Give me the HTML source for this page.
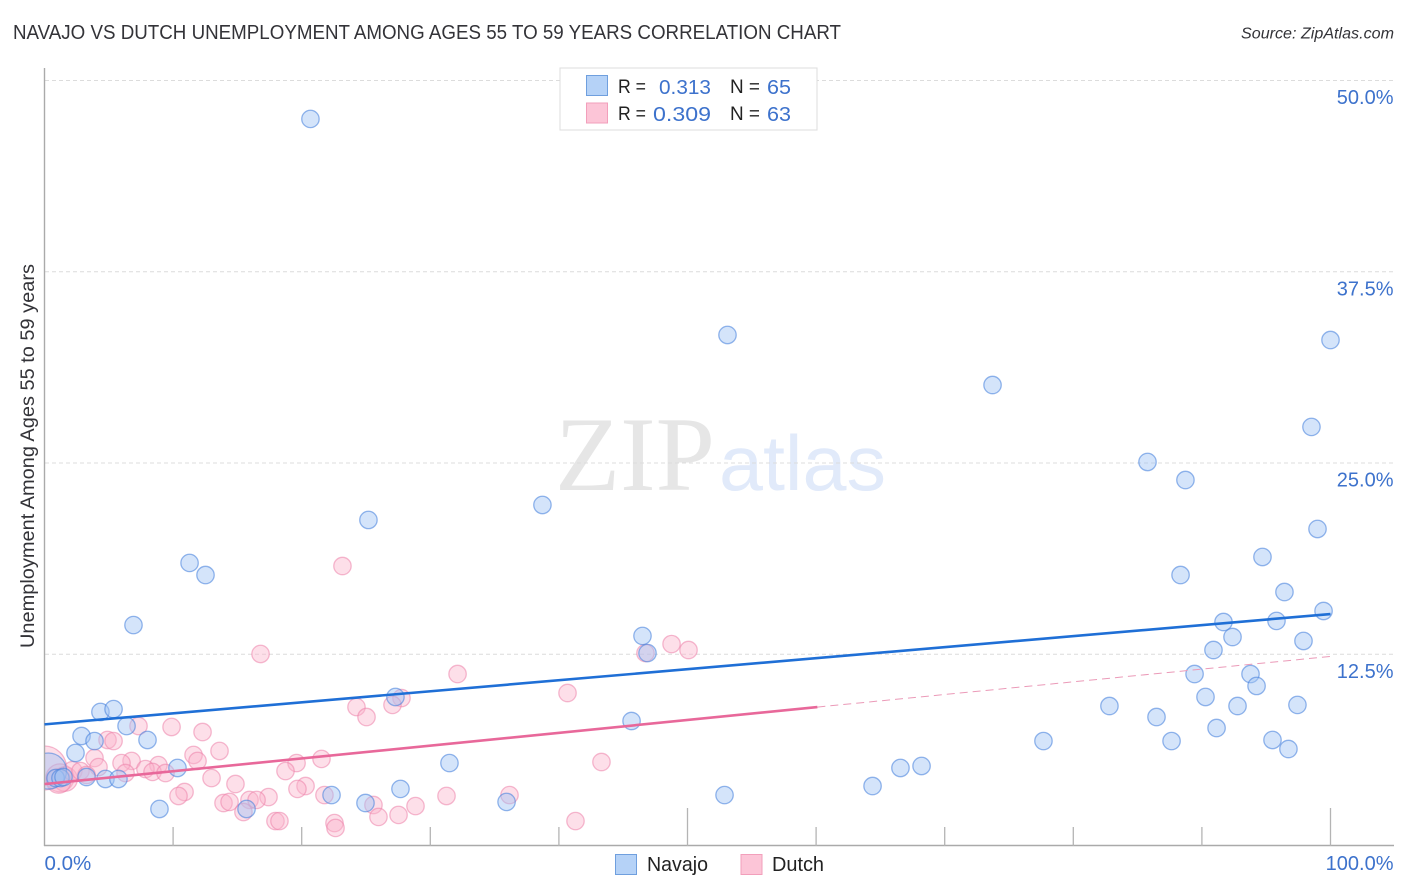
<!DOCTYPE html>
<html lang="en">
<head>
<meta charset="utf-8">
<title>Navajo vs Dutch Unemployment Among Ages 55 to 59 Years Correlation Chart</title>
<style>
html,body{margin:0;padding:0;background:#fff;}
body{width:1406px;height:892px;overflow:hidden;}
svg{display:block;font-family:"Liberation Sans",sans-serif;}
</style>
</head>
<body>
<svg id="chart" xmlns="http://www.w3.org/2000/svg" width="1406" height="892" viewBox="0 0 1406 892">
  <defs>
    <clipPath id="plot-clip"><rect x="45" y="60" width="1350" height="786"/></clipPath>
  </defs>
  <rect x="0" y="0" width="1406" height="892" fill="#ffffff"/>
  <text x="13" y="39" font-size="20" fill="#333338" textLength="828" lengthAdjust="spacingAndGlyphs">NAVAJO VS DUTCH UNEMPLOYMENT AMONG AGES 55 TO 59 YEARS CORRELATION CHART</text>
  <text x="1241" y="38.5" font-size="15.5" font-style="italic" fill="#333338" textLength="153" lengthAdjust="spacingAndGlyphs">Source: ZipAtlas.com</text>

  <g>
    <text x="555" y="490" font-family="'Liberation Serif',serif" font-size="106" fill="#e6e6e6" textLength="160" lengthAdjust="spacingAndGlyphs">ZIP</text>
    <text x="719" y="490" font-size="78" fill="#e1eafa" textLength="167" lengthAdjust="spacingAndGlyphs">atlas</text>
  </g>

  <g id="grid"></g>
  <g id="marks-dutch" clip-path="url(#plot-clip)"></g>
  <g id="marks-navajo" clip-path="url(#plot-clip)"></g>
  <rect x="0" y="700" width="44" height="146" fill="#ffffff"/>
  <g id="axes"></g>
  <g id="trends"></g>
  <g id="tick-labels"></g>

  <text transform="translate(34 648) rotate(-90)" x="0" y="0" font-size="19" fill="#333338" textLength="384" lengthAdjust="spacingAndGlyphs">Unemployment Among Ages 55 to 59 years</text>

  <g>
    <rect x="560" y="68" width="257" height="62" fill="#ffffff" stroke="#dddddd" stroke-width="1"/>
    <rect x="586.5" y="75.5" width="21" height="20" fill="#b5d2f7" stroke="#6f9fde" stroke-width="1"/>
    <rect x="586.5" y="103" width="21" height="20" fill="#fcc5d7" stroke="#f29fbb" stroke-width="1"/>
    <text x="618" y="93" font-size="19" fill="#222222" textLength="28" lengthAdjust="spacingAndGlyphs">R =</text>
    <text x="659" y="94" font-size="20.5" fill="#3d72cc" textLength="52" lengthAdjust="spacingAndGlyphs">0.313</text>
    <text x="730" y="93" font-size="19" fill="#222222" textLength="30" lengthAdjust="spacingAndGlyphs">N =</text>
    <text x="767" y="94" font-size="20.5" fill="#3d72cc" textLength="24" lengthAdjust="spacingAndGlyphs">65</text>
    <text x="618" y="120" font-size="19" fill="#222222" textLength="28" lengthAdjust="spacingAndGlyphs">R =</text>
    <text x="653" y="121" font-size="20.5" fill="#3d72cc" textLength="58" lengthAdjust="spacingAndGlyphs">0.309</text>
    <text x="730" y="120" font-size="19" fill="#222222" textLength="30" lengthAdjust="spacingAndGlyphs">N =</text>
    <text x="767" y="121" font-size="20.5" fill="#3d72cc" textLength="24" lengthAdjust="spacingAndGlyphs">63</text>
  </g>

  <g>
    <rect x="615.5" y="854.5" width="21" height="20" fill="#b5d2f7" stroke="#6f9fde" stroke-width="1"/>
    <text x="647" y="871" font-size="20" fill="#222222" textLength="61" lengthAdjust="spacingAndGlyphs">Navajo</text>
    <rect x="741" y="854.5" width="21" height="20" fill="#fcc5d7" stroke="#f29fbb" stroke-width="1"/>
    <text x="772" y="871" font-size="20" fill="#222222" textLength="52" lengthAdjust="spacingAndGlyphs">Dutch</text>
  </g>
</svg>

<script>
const xTicks = [10, 20, 30, 40, 50, 60, 70, 80, 90, 100];
const xMajorTicks = [50, 100];
const yTicks = [12.5, 25, 37.5, 50];
const yTickLabels = ['12.5%', '25.0%', '37.5%', '50.0%'];
const xEndLabels = ['0.0%', '100.0%'];

const navajoX = [0.31, 0.86, 1.24, 1.48, 20.68, 53.11, 73.72, 100, 98.52, 85.77, 88.72, 38.72, 25.19, 98.99, 94.71, 11.28, 12.52, 88.34, 96.42, 99.46, 6.92, 91.68, 95.8, 46.5, 92.38, 97.9, 90.9, 46.89, 89.43, 93.78, 94.25, 27.29, 90.28, 82.81, 92.77, 97.43, 4.35, 5.37, 86.47, 45.65, 6.38, 91.14, 2.88, 3.89, 8.01, 77.68, 87.64, 95.49, 96.73, 2.41, 31.49, 68.2, 66.56, 10.34, 27.68, 64.39, 22.32, 52.88, 24.96, 35.93, 8.94, 15.71, 3.27, 4.74, 5.75];
const navajoY = [4.9, 4.44, 4.44, 4.51, 47.52, 33.4, 30.13, 33.07, 27.39, 25.1, 23.92, 22.29, 21.31, 20.72, 18.89, 18.5, 17.71, 17.71, 16.6, 15.36, 14.44, 14.64, 14.71, 13.73, 13.66, 13.4, 12.81, 12.61, 11.24, 11.24, 10.46, 9.74, 9.74, 9.15, 9.15, 9.22, 8.76, 8.95, 8.43, 8.17, 7.84, 7.71, 7.19, 6.86, 6.93, 6.86, 6.86, 6.93, 6.34, 6.08, 5.42, 5.23, 5.1, 5.1, 3.73, 3.92, 3.33, 3.33, 2.81, 2.88, 2.42, 2.42, 4.51, 4.38, 4.38];
const navajoWeight = [4.3, 1, 1, 1];

const dutchX = [0, 1.2, 1.6, 1.1, 2.18, 23.17, 16.8, 46.73, 48.76, 50.08, 32.12, 40.67, 27.76, 27.06, 24.26, 25.04, 7.31, 9.88, 12.29, 4.9, 5.37, 13.61, 11.59, 11.9, 3.89, 19.6, 21.54, 6.77, 5.99, 8.86, 43.31, 4.2, 7.85, 8.4, 9.41, 6.3, 18.74, 2.8, 3.27, 12.99, 14.85, 20.3, 19.67, 10.89, 10.42, 21.77, 17.42, 36.16, 31.26, 13.92, 14.39, 15.94, 16.49, 28.85, 25.58, 15.47, 25.97, 27.53, 17.96, 18.27, 41.29, 22.55, 22.63];
const dutchY = [5.1, 4.45, 4.38, 4.25, 4.9, 18.3, 12.55, 12.61, 13.2, 12.81, 11.24, 10, 9.67, 9.22, 9.08, 8.43, 7.84, 7.78, 7.45, 6.93, 6.86, 6.21, 5.95, 5.56, 5.75, 5.42, 5.69, 5.56, 5.42, 5.29, 5.49, 5.16, 5.03, 4.84, 4.77, 4.77, 4.9, 4.9, 4.64, 4.44, 4.05, 3.92, 3.73, 3.53, 3.27, 3.33, 3.2, 3.33, 3.27, 2.81, 2.88, 3.01, 3.01, 2.61, 2.68, 2.22, 1.9, 2.03, 1.63, 1.63, 1.63, 1.5, 1.18];
const dutchWeight = [6.4, 2.6, 2, 2, 1.2];

const navajoTrendX = [0, 100];
const navajoTrendY = [7.95, 15.16];
const dutchSolidX = [0, 60.1];
const dutchSolidY = [4.05, 9.08];
const dutchDashedX = [60.1, 100];
const dutchDashedY = [9.08, 12.39];

const NS = 'http://www.w3.org/2000/svg';
function xScale(v) { return 44.5 + v * 12.86; }
function yScale(v) { return 846 - v * 15.3; }
function radius(w) { return 8.7 * Math.sqrt(w); }
function make(tag, parent, props) {
  const el = document.createElementNS(NS, tag);
  Object.keys(props).forEach(function (k) { el.setAttribute(k, props[k]); });
  parent.appendChild(el);
  return el;
}

const grid = document.getElementById('grid');
const axes = document.getElementById('axes');
const labels = document.getElementById('tick-labels');
const trends = document.getElementById('trends');

yTicks.forEach(function (v) {
  const line = make('line', grid, { x1: 45, x2: 1394, y1: yScale(v) - 0.5, y2: yScale(v) - 0.5, stroke: '#dcdcdc', 'stroke-width': 1, 'stroke-dasharray': '4 3' });
  
  
});

const yAxisLine = make('line', axes, { x1: 44.5, x2: 44.5, y1: 68, y2: 846, stroke: '#aaaaaa', 'stroke-width': 1.4 });


const xAxisLine = make('line', axes, { x1: 44, x2: 1394, y1: 845.5, y2: 845.5, stroke: '#aaaaaa', 'stroke-width': 1.4 });



xTicks.forEach(function (v) {
  const top = xMajorTicks.indexOf(v) >= 0 ? 808 : 827;
  const tick = make('line', axes, { x1: xScale(v), x2: xScale(v), y1: top, y2: 846, stroke: '#b4b4b4', 'stroke-width': 1.3 });
  
  
});

yTicks.forEach(function (v, i) {
  const t = make('text', labels, { x: 1393.5, y: yScale(v) + 23, 'text-anchor': 'end', 'font-size': 20, fill: '#3d72cc' });
  
  
  t.textContent = yTickLabels[i];
});

const xStart = make('text', labels, { x: xScale(0), y: 870, 'font-size': 20.5, fill: '#3d72cc' });


xStart.textContent = xEndLabels[0];
const xEnd = make('text', labels, { x: 1393.5, y: 870, 'text-anchor': 'end', 'font-size': 20, fill: '#3d72cc' });


xEnd.textContent = xEndLabels[1];

dutchX.forEach(function (v, i) {
  const c = make('circle', document.getElementById('marks-dutch'), {
    cx: xScale(v), cy: yScale(dutchY[i]), r: radius(dutchWeight[i] || 1),
    fill: 'rgba(250,178,202,0.42)', stroke: 'rgba(236,130,170,0.55)', 'stroke-width': 1.3
  });
  
  
});

navajoX.forEach(function (v, i) {
  const c = make('circle', document.getElementById('marks-navajo'), {
    cx: xScale(v), cy: yScale(navajoY[i]), r: radius(navajoWeight[i] || 1),
    fill: 'rgba(160,196,245,0.45)', stroke: 'rgba(70,130,220,0.58)', 'stroke-width': 1.3
  });
  
  
});

const navajoLine = make('line', trends, { x1: xScale(navajoTrendX[0]), y1: yScale(navajoTrendY[0]), x2: xScale(navajoTrendX[1]), y2: yScale(navajoTrendY[1]), stroke: '#1f6fd6', 'stroke-width': 2.6 });


const dutchLine = make('line', trends, { x1: xScale(dutchSolidX[0]), y1: yScale(dutchSolidY[0]), x2: xScale(dutchSolidX[1]), y2: yScale(dutchSolidY[1]), stroke: '#e8689a', 'stroke-width': 2.6 });


const dutchDash = make('line', trends, { x1: xScale(dutchDashedX[0]), y1: yScale(dutchDashedY[0]), x2: xScale(dutchDashedX[1]), y2: yScale(dutchDashedY[1]), stroke: '#eb9ab8', 'stroke-width': 1, 'stroke-dasharray': '8 5' });


</script>
</body>
</html>
